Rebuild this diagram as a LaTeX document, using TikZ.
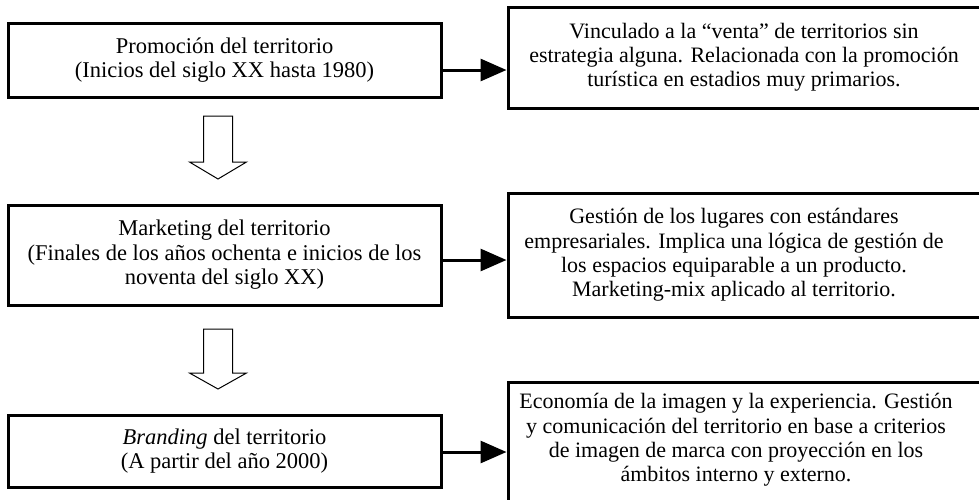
\documentclass[tikz,border=0pt]{standalone}
\usepackage{fontspec}
\setmainfont{Liberation Serif}
\usetikzlibrary{arrows.meta,calc}
\begin{document}
\begin{tikzpicture}[x=1pt,y=-1pt,
  lbox/.style={draw,line width=3pt,inner sep=0pt,align=center,
    font=\fontsize{22.5}{24.5}\selectfont,minimum width=433pt},
  rbox/.style={draw,line width=3pt,inner sep=0pt},
  rtext/.style={align=center,inner sep=0pt,font=\fontsize{22}{24.2}\selectfont},
  conn/.style={line width=3pt,-{Triangle[length=26pt,width=22pt]}},
  hollow/.style={draw,line width=1pt,fill=white}
]
\useasboundingbox (0,0) rectangle (979,499);
\clip (0,0) rectangle (979,499);
% left boxes
\node[lbox,minimum height=74pt] (l1) at (224.5,60) {Promoción del territorio\\(Inicios del siglo XX hasta 1980)};
\node[lbox,minimum height=100pt] (l2) at (224.5,255) {Marketing del territorio\\(Finales de los años ochenta e inicios de los\\noventa del siglo XX)};
\node[lbox,minimum height=72pt] (l3) at (224.5,451) {\textit{Branding} del territorio\\(A partir del año 2000)};
% right boxes (cut by the picture's right and bottom edge)
\node[rbox,minimum width=500pt,minimum height=101pt] (r1) at (758,57.5) {};
\node[rbox,minimum width=500pt,minimum height=124pt] (r2) at (758,255) {};
\node[rbox,minimum width=500pt,minimum height=140pt] (r3) at (758,452) {};
\node[rtext] (t1) at (744,57.5) {Vinculado a la “venta” de territorios sin\\estrategia alguna. Relacionada con la promoción\\turística en estadios muy primarios.};
\node[rtext] (t2) at (734,255) {Gestión de los lugares con estándares\\empresariales. Implica una lógica de gestión de\\los espacios equiparable a un producto.\\Marketing-mix aplicado al territorio.};
\node[rtext] (t3) at (736,440) {Economía de la imagen y la experiencia. Gestión\\y comunicación del territorio en base a criterios\\de imagen de marca con proyección en los\\ámbitos interno y externo.};
% connectors
\coordinate (a1) at ([yshift=-10pt]l1.east);
\coordinate (a2) at ([yshift=-5pt]l2.east);
\coordinate (a3) at ([yshift=-1pt]l3.east);
\draw[conn] (a1) -- (a1 -| r1.west);
\draw[conn] (a2) -- (a2 -| r2.west);
\draw[conn] (a3) -- (a3 -| r3.west);
% hollow down arrows
\coordinate (h1) at (218,116);
\coordinate (h2) at (218,329);
\draw[hollow] (h1) ++(-14.5,0) -- ++(29,0) -- ++(0,46) -- ++(14,0) -- ++(-28.5,17) -- ++(-28.5,-17) -- ++(14,0) -- cycle;
\draw[hollow] (h2) ++(-14.5,0) -- ++(29,0) -- ++(0,44) -- ++(14,0) -- ++(-28.5,16) -- ++(-28.5,-16) -- ++(14,0) -- cycle;
\end{tikzpicture}
\end{document}
